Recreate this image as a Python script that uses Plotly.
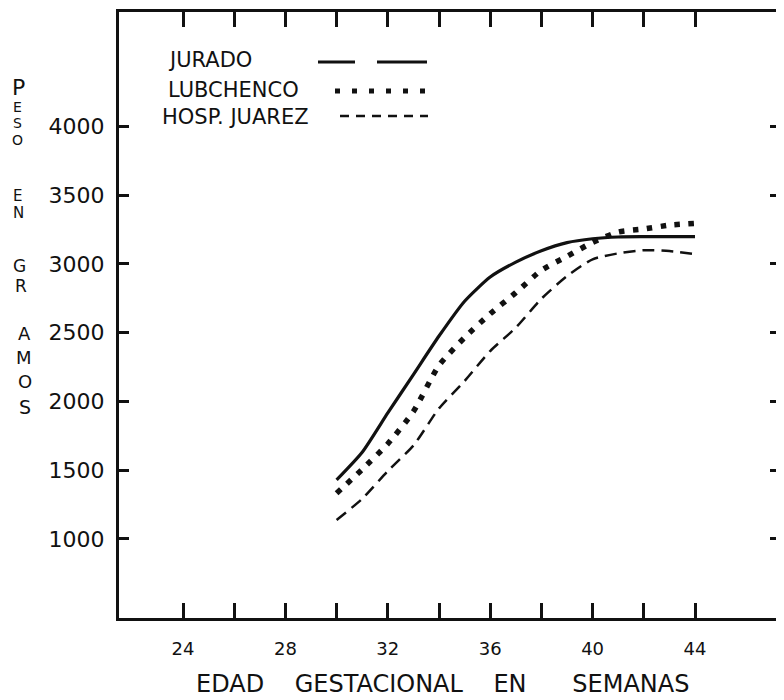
import plotly.graph_objects as go

# ---- data ----
weeks = [30, 31, 32, 33, 34, 35, 36, 37, 38, 39, 40, 41, 42, 43, 44]
jurado = [1429, 1630, 1916, 2195, 2475, 2728, 2904, 3012, 3095, 3154, 3182, 3195, 3197, 3197, 3197]
lubchenco = [1332, 1506, 1692, 1926, 2262, 2464, 2637, 2790, 2953, 3054, 3156, 3231, 3253, 3281, 3294]
juarez = [1138, 1292, 1494, 1679, 1949, 2148, 2366, 2536, 2746, 2911, 3033, 3076, 3099, 3093, 3071]

x_ticks = [24, 26, 28, 30, 32, 34, 36, 38, 40, 42, 44]
x_labels = ["24", "", "28", "", "32", "", "36", "", "40", "", "44"]
y_ticks = [1000, 1500, 2000, 2500, 3000, 3500, 4000]
y_labels = ["1000", "1500", "2000", "2500", "3000", "3500", "4000"]

legend_names = ["JURADO", "LUBCHENCO", "HOSP. JUAREZ"]
x_title = "EDAD    GESTACIONAL    EN      SEMANAS"
y_title_letters = ["P", "E", "S", "O", "E", "N", "G", "R", "A", "M", "O", "S"]

# ---- layout geometry (page pixels; the page body adds an 8 px margin) ----
OFF = 8
WIDTH, HEIGHT = 784 - OFF, 700 - OFF
L, R, T, B = 119, 784, 12, 618          # plot area in page pixels
PW, PH = R - L, B - T


def fx(px):
    return (px - L) / PW


def fy(py):
    return (B - py) / PH


FONT = "DejaVu Sans"
INK = "#111111"

fig = go.Figure()
fig.add_trace(go.Scatter(x=weeks, y=jurado, mode="lines", name=legend_names[0],
                         line=dict(color=INK, width=3.2, shape="spline", smoothing=0.6),
                         showlegend=False))
fig.add_trace(go.Scatter(x=weeks, y=lubchenco, mode="lines", name=legend_names[1],
                         line=dict(color=INK, width=5.5, dash="5.5px,8.5px", shape="spline", smoothing=0.6),
                         showlegend=False))
fig.add_trace(go.Scatter(x=weeks, y=juarez, mode="lines", name=legend_names[2],
                         line=dict(color=INK, width=2.5, dash="12px,7px", shape="spline", smoothing=0.6),
                         showlegend=False))
# invisible trace to carry the right-hand ticks
fig.add_trace(go.Scatter(x=[weeks[0]], y=[jurado[0]], yaxis="y2", mode="lines",
                         line=dict(width=0), hoverinfo="skip", showlegend=False))

x0 = 24 - (183 - L) / 25.6
x1 = 24 + (R - 183) / 25.6
y0 = 2500 - (B - 332.6) / 0.13757
y1 = 2500 + (332.6 - T) / 0.13757

fig.update_layout(
    width=WIDTH, height=HEIGHT,
    margin=dict(l=L - OFF, r=784 - R, t=T - OFF, b=700 - B, autoexpand=False),
    paper_bgcolor="white", plot_bgcolor="white",
    showlegend=False,
    font=dict(family=FONT, color=INK),
    xaxis=dict(range=[x0, x1], tickvals=x_ticks, ticktext=x_labels,
               ticks="inside", ticklen=15, tickwidth=2.5, tickcolor=INK,
               showline=True, linewidth=3, linecolor=INK, mirror="ticks",
               showgrid=False, zeroline=False, ticklabelstandoff=12,
               automargin=False,
               tickfont=dict(size=18, family=FONT, color=INK)),
    yaxis=dict(range=[y0, y1], tickvals=y_ticks, ticktext=y_labels,
               ticks="inside", ticklen=10, tickwidth=2.5, tickcolor=INK,
               showline=True, linewidth=3, linecolor=INK, mirror=False,
               showgrid=False, zeroline=False, ticklabelstandoff=7,
               automargin=False,
               tickfont=dict(size=22, family=FONT, color=INK)),
    yaxis2=dict(range=[y0, y1], tickvals=y_ticks, overlaying="y", side="right",
                ticks="inside", ticklen=14, tickwidth=2.5, tickcolor=INK,
                showline=False, showgrid=False, zeroline=False,
                showticklabels=False, automargin=False),
)

# ---- hand-made legend (text left, sample right) ----
shapes = [
    dict(type="line", xref="paper", yref="paper",
         x0=fx(318), x1=fx(355), y0=fy(62), y1=fy(62),
         line=dict(color=INK, width=3)),
    dict(type="line", xref="paper", yref="paper",
         x0=fx(377), x1=fx(427), y0=fy(62), y1=fy(62),
         line=dict(color=INK, width=3)),
    dict(type="line", xref="paper", yref="paper",
         x0=fx(335), x1=fx(428), y0=fy(91), y1=fy(91),
         line=dict(color=INK, width=5, dash="5px,12px")),
    dict(type="line", xref="paper", yref="paper",
         x0=fx(340), x1=fx(428), y0=fy(116), y1=fy(116),
         line=dict(color=INK, width=2.5, dash="9px,7px")),
]
fig.update_layout(shapes=shapes)

annotations = []
for name, (lx, ly) in zip(legend_names, [(166, 60), (166, 90), (160, 117)]):
    annotations.append(dict(text=name, xref="paper", yref="paper", x=fx(lx), y=fy(ly),
                            xanchor="left", yanchor="middle", showarrow=False,
                            font=dict(size=21, family=FONT, color=INK)))

# x axis title
annotations.append(dict(text=x_title, xref="paper", yref="paper", x=fx(442), y=fy(684),
                        xanchor="center", yanchor="middle", showarrow=False,
                        font=dict(size=24, family=FONT, color=INK)))

# stacked y axis title letters: (x, y, size)
letter_pos = [(18, 87, 22), (17, 107, 14), (17, 123.5, 14), (17, 140, 14),
              (17, 196, 15), (18, 213, 15),
              (19, 266, 17), (21, 286, 17),
              (24, 333, 18), (24, 357, 18), (25, 382, 18), (25, 407, 19)]
for ch, (lx, ly, sz) in zip(y_title_letters, letter_pos):
    annotations.append(dict(text=ch, xref="paper", yref="paper", x=fx(lx), y=fy(ly),
                            xanchor="center", yanchor="middle", showarrow=False,
                            font=dict(size=sz, family=FONT, color=INK)))
fig.update_layout(annotations=annotations)

fig.write_html("out.html")
